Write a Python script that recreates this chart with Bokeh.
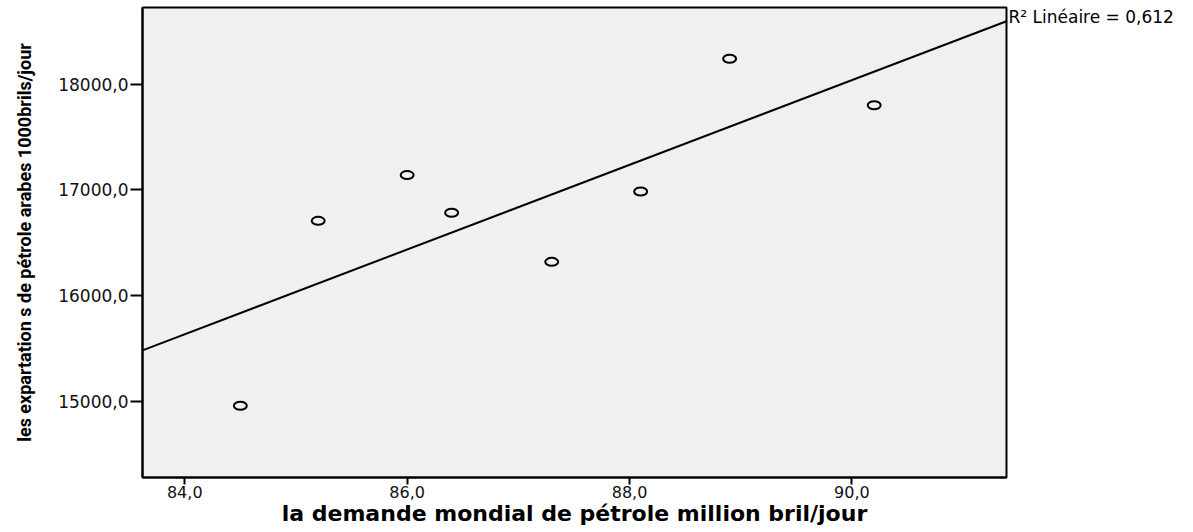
import numpy as np
from bokeh.plotting import figure
from bokeh.models import ColumnDataSource, FixedTicker, Range1d, LinearAxis, CustomJSTickFormatter
from bokeh.embed import file_html
from bokeh.resources import INLINE

# ---- data ----
demand = [84.5, 85.2, 86.0, 86.4, 87.3, 88.1, 88.9, 90.2]
exports = [14960, 16708, 17140, 16784, 16320, 16985, 18240, 17800]

x_ticks = [84, 86, 88, 90]
x_tick_labels = ["84,0", "86,0", "88,0", "90,0"]
y_ticks = [15000, 16000, 17000, 18000]
y_tick_labels = ["15000,0", "16000,0", "17000,0", "18000,0"]

x_lo, x_hi = 83.62, 91.39
y_lo, y_hi = 14282, 18724

x_title = "la demande mondial de pétrole million bril/jour"
y_title = "les expartation s de pétrole arabes 1000brils/jour"
fit_label = "R² Linéaire = 0,612"

# ---- linear fit from the data ----
slope, intercept = np.polyfit(demand, exports, 1)
fit_x = [x_lo, x_hi]
fit_y = [slope * v + intercept for v in fit_x]

p = figure(
    width=1185, height=530,
    x_range=Range1d(x_lo, x_hi), y_range=Range1d(y_lo, y_hi),
    output_backend="svg", toolbar_location=None,
    min_border_left=142, min_border_right=179,
    min_border_top=7, min_border_bottom=53,
    background_fill_color="#f0f0f0", border_fill_color="white",
)
p.outline_line_color = "black"
p.outline_line_width = 2
p.grid.visible = False

# x axis
xa = p.xaxis[0]
xa.ticker = FixedTicker(ticks=x_ticks)
xa.major_label_overrides = dict(zip(x_ticks, x_tick_labels))
xa.minor_tick_line_color = None
xa.major_tick_in = 0
xa.major_tick_out = 7
xa.major_tick_line_width = 2
xa.major_tick_line_color = "black"
xa.axis_line_color = "black"
xa.axis_line_width = 2
xa.major_label_standoff = 1
xa.major_label_text_font = "DejaVu Sans"
xa.major_label_text_font_size = "16px"
xa.major_label_text_color = "#111111"
xa.axis_label = x_title
xa.axis_label_standoff = 0
xa.axis_label_text_font = "DejaVu Sans"
xa.axis_label_text_font_style = "bold"
xa.axis_label_text_font_size = "22px"
xa.axis_label_text_color = "black"

# y axis
ya = p.yaxis[0]
ya.ticker = FixedTicker(ticks=y_ticks)
ya.major_label_overrides = dict(zip(y_ticks, y_tick_labels))
ya.minor_tick_line_color = None
ya.major_tick_in = 0
ya.major_tick_out = 12
ya.major_tick_line_width = 2
ya.major_tick_line_color = "black"
ya.axis_line_color = "black"
ya.axis_line_width = 2
ya.major_label_standoff = 2
ya.major_label_text_font = "DejaVu Sans"
ya.major_label_text_font_size = "17px"
ya.major_label_text_color = "#111111"
ya.axis_label = y_title
ya.axis_label_standoff = 20
ya.axis_label_text_font = "Roboto"
ya.axis_label_text_font_style = "bold"
ya.axis_label_text_font_size = "18px"
ya.axis_label_text_color = "black"

# regression line
p.line(fit_x, fit_y, line_color="black", line_width=2)

# points (open ellipses)
src = ColumnDataSource(data=dict(x=demand, y=exports))
p.ellipse(x="x", y="y", width=13, height=8,
          width_units="screen", height_units="screen",
          fill_color=None, line_color="black", line_width=2, source=src)

# R² annotation next to the right end of the fit line (as a right-side axis label)
r2_y = fit_y[1] + 35
ra = LinearAxis(
    ticker=FixedTicker(ticks=[r2_y]),
    formatter=CustomJSTickFormatter(args=dict(t=fit_label), code="return t;"),
    axis_line_color=None, major_tick_line_color=None, minor_tick_line_color=None,
    major_tick_in=0, major_tick_out=0, major_label_standoff=2,
    major_label_text_font="DejaVu Sans", major_label_text_font_size="17px",
    major_label_text_color="black",
)
p.add_layout(ra, "right")

open("out.html", "w").write(file_html(p, INLINE))
